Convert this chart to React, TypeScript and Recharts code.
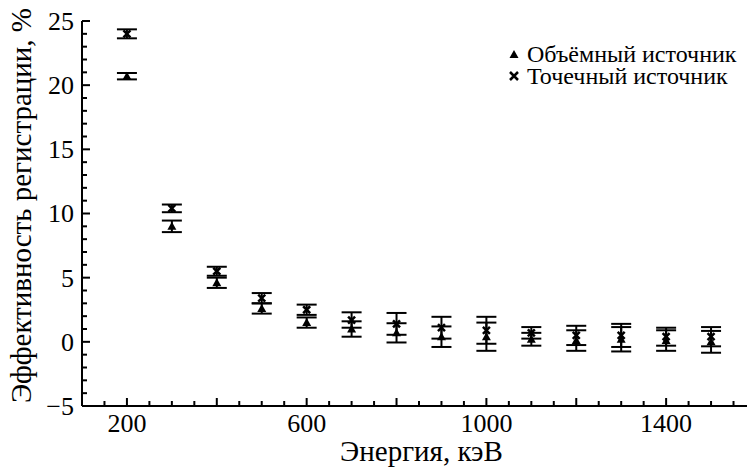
import {
  ErrorBar,
  Legend,
  Scatter,
  ScatterChart,
  XAxis,
  YAxis,
} from "recharts";

// energies, keV
const energy = [200, 300, 400, 500, 600, 700, 800, 900, 1000, 1100, 1200, 1300, 1400, 1500];

// volumetric source (triangles)
const volumeEff = [20.7, 9.0, 4.6, 2.6, 1.5, 1.0, 0.7, 0.4, 0.4, 0.2, 0.1, 0.2, 0.1, 0.0];
const volumeErr = [0.25, 0.45, 0.4, 0.4, 0.4, 0.6, 0.75, 0.8, 1.1, 0.5, 0.8, 0.95, 0.8, 0.85];

// point source (crosses)
const pointEff = [24.0, 10.4, 5.5, 3.4, 2.5, 1.7, 1.4, 1.1, 0.9, 0.7, 0.5, 0.5, 0.4, 0.4];
const pointErr = [0.35, 0.3, 0.35, 0.4, 0.4, 0.6, 0.85, 0.85, 1.05, 0.45, 0.75, 0.9, 0.7, 0.75];

const xLabelTicks = [200, 600, 1000, 1400];
const yLabelTicks = [-5, 0, 5, 10, 15, 20, 25];

const xTicks: number[] = [];
for (let v = 150; v <= 1550; v += 50) xTicks.push(v);
const yTicks: number[] = [];
for (let v = -5; v <= 25; v += 1) yTicks.push(v);

const volumeData = energy.map((e, i) => ({ x: e, y: volumeEff[i], err: volumeErr[i] }));
const pointData = energy.map((e, i) => ({ x: e, y: pointEff[i], err: pointErr[i] }));

const font = "'Liberation Serif', 'Times New Roman', Times, 'DejaVu Serif', serif";
const tickFont = 26;
const titleFont = 29;

const majorX = (v: number) => v % 200 === 0;
const majorY = (v: number) => v % 5 === 0;
const fmt = (v: number) => (v < 0 ? `\u2212${Math.abs(v)}` : `${v}`);

const BottomTick = (props: any) => {
  const { x, y, payload } = props;
  const v = payload.value;
  const len = majorX(v) ? 8 : 5;
  return (
    <g>
      <line x1={x} x2={x} y1={y} y2={y - len} stroke="#000" strokeWidth={2} />
      {xLabelTicks.includes(v) && (
        <text x={x} y={y + 26} textAnchor="middle" style={{ fontFamily: font, fontSize: tickFont }} fill="#000">
          {v}
        </text>
      )}
    </g>
  );
};

const TopTick = (props: any) => {
  const { x, y, payload } = props;
  const len = majorX(payload.value) ? 8 : 5;
  return <line x1={x} x2={x} y1={y} y2={y + len} stroke="#000" strokeWidth={2} />;
};

const LeftTick = (props: any) => {
  const { x, y, payload } = props;
  const v = payload.value;
  const len = majorY(v) ? 8 : 5;
  return (
    <g>
      <line x1={x} x2={x + len} y1={y} y2={y} stroke="#000" strokeWidth={2} />
      {yLabelTicks.includes(v) && (
        <text x={x - 8} y={y} dy="0.34em" textAnchor="end" style={{ fontFamily: font, fontSize: tickFont }} fill="#000">
          {fmt(v)}
        </text>
      )}
    </g>
  );
};

const RightTick = (props: any) => {
  const { x, y, payload } = props;
  const len = majorY(payload.value) ? 8 : 5;
  return <line x1={x} x2={x - len} y1={y} y2={y} stroke="#000" strokeWidth={2} />;
};

const Triangle = (props: any) => {
  const { cx, cy } = props;
  return <path d={`M${cx},${cy - 4.5} L${cx + 4.5},${cy + 3.5} L${cx - 4.5},${cy + 3.5} Z`} fill="#000" />;
};

const Cross = (props: any) => {
  const { cx, cy } = props;
  const r = 3.5;
  return (
    <path
      d={`M${cx - r},${cy - r} L${cx + r},${cy + r} M${cx - r},${cy + r} L${cx + r},${cy - r}`}
      stroke="#000"
      strokeWidth={2.5}
    />
  );
};

const XLabel = (props: any) => {
  const { viewBox } = props;
  return (
    <text
      x={viewBox.x + viewBox.width / 2 + 7}
      y={viewBox.y + 55}
      textAnchor="middle"
      style={{ fontFamily: font, fontSize: titleFont }}
      fill="#000"
    >
      Энергия, кэВ
    </text>
  );
};

const YLabel = (props: any) => {
  const { viewBox } = props;
  const cx = 31;
  const cy = viewBox.y + viewBox.height / 2 - 8;
  return (
    <text
      x={cx}
      y={cy}
      transform={`rotate(-90, ${cx}, ${cy})`}
      textAnchor="middle"
      style={{ fontFamily: font, fontSize: titleFont }}
      fill="#000"
    >
      Эффективность регистрации, %
    </text>
  );
};

const LegendContent = () => (
  <div style={{ fontFamily: font, fontSize: 24, color: "#000", lineHeight: "22px" }}>
    <div style={{ display: "flex", alignItems: "center" }}>
      <svg width={14} height={14} style={{ marginRight: 6 }}>
        <path d="M7,3 L11.5,11 L2.5,11 Z" fill="#000" />
      </svg>
      Объёмный источник
    </div>
    <div style={{ display: "flex", alignItems: "center" }}>
      <svg width={14} height={14} style={{ marginRight: 6 }}>
        <path d="M3,3 L11,11 M3,11 L11,3" stroke="#000" strokeWidth={2.5} />
      </svg>
      Точечный источник
    </div>
  </div>
);

export default function App() {
  return (
    <div style={{ position: "fixed", left: 0, top: 0, width: 752, height: 467, background: "#fff", fontFamily: font }}>
      <ScatterChart
        width={752}
        height={467}
        margin={{ top: 21, right: 5, bottom: 0, left: 0 }}
        style={{ fontFamily: font }}
      >
        <XAxis
          xAxisId="b"
          dataKey="x"
          type="number"
          domain={[100, 1580]}
          ticks={xTicks}
          interval={0}
          allowDataOverflow
          height={61}
          tickSize={0}
          tickMargin={0}
          tickLine={false}
          axisLine={{ stroke: "#000", strokeWidth: 2 }}
          tick={<BottomTick />}
          label={{ content: <XLabel /> }}
        />
        <XAxis
          xAxisId="t"
          orientation="top"
          type="number"
          domain={[100, 1580]}
          ticks={xTicks}
          interval={0}
          allowDataOverflow
          height={0}
          tickSize={0}
          tickMargin={0}
          tickLine={false}
          axisLine={{ stroke: "#000", strokeWidth: 2 }}
          tick={<TopTick />}
        />
        <YAxis
          yAxisId="l"
          dataKey="y"
          type="number"
          domain={[-5, 25]}
          ticks={yTicks}
          interval={0}
          allowDataOverflow
          width={82}
          tickSize={0}
          tickMargin={0}
          tickLine={false}
          axisLine={{ stroke: "#000", strokeWidth: 2 }}
          tick={<LeftTick />}
          label={{ content: <YLabel /> }}
        />
        <YAxis
          yAxisId="r"
          orientation="right"
          type="number"
          domain={[-5, 25]}
          ticks={yTicks}
          interval={0}
          allowDataOverflow
          width={0}
          tickSize={0}
          tickMargin={0}
          tickLine={false}
          axisLine={{ stroke: "#000", strokeWidth: 2 }}
          tick={<RightTick />}
        />
        <Legend
          layout="vertical"
          verticalAlign="middle"
          align="center"
          content={<LegendContent />}
          wrapperStyle={{ position: "absolute", top: 43, left: 507, width: 245 }}
        />
        <Scatter
          name="Объёмный источник"
          data={volumeData}
          xAxisId="b"
          yAxisId="l"
          shape={<Triangle />}
          isAnimationActive={false}
        >
          <ErrorBar dataKey="err" direction="y" width={10} stroke="#000" strokeWidth={2} />
        </Scatter>
        <Scatter
          name="Точечный источник"
          data={pointData}
          xAxisId="b"
          yAxisId="l"
          shape={<Cross />}
          isAnimationActive={false}
        >
          <ErrorBar dataKey="err" direction="y" width={10} stroke="#000" strokeWidth={2} />
        </Scatter>
      </ScatterChart>
    </div>
  );
}
